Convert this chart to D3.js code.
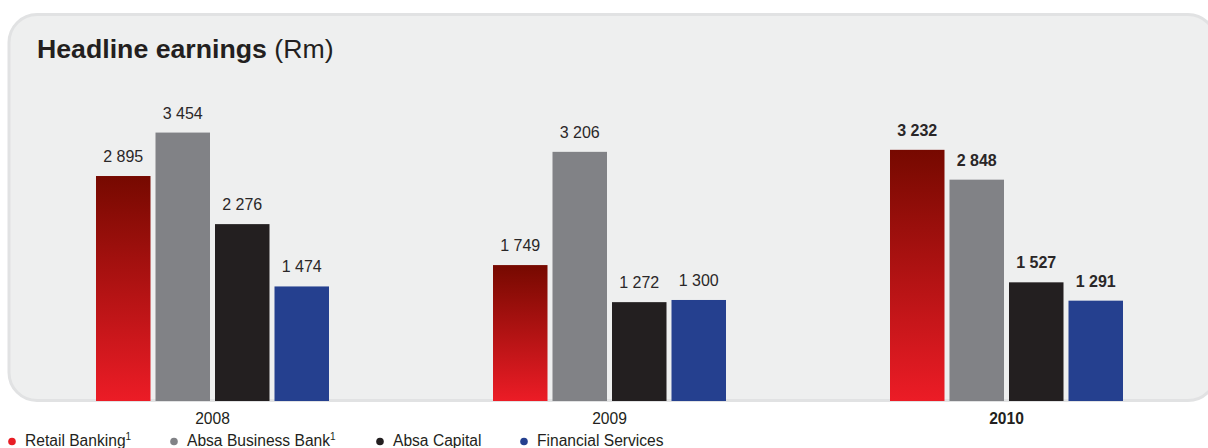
<!DOCTYPE html>
<html>
<head>
<meta charset="utf-8">
<script src="https://cdn.jsdelivr.net/npm/d3@7"></script>
<style>
  html, body { margin: 0; padding: 0; background: #ffffff; }
  svg { display: block; font-family: "Liberation Sans", Arial, sans-serif; }
</style>
</head>
<body>
<svg id="chart" width="1208" height="448"></svg>
<script>
// Headline earnings by business unit (Rm)
const years = ["2008", "2009", "2010"];
const seriesNames = ["Retail Banking", "Absa Business Bank", "Absa Capital", "Financial Services"];
const retailBanking = [2895, 1749, 3232];
const absaBusinessBank = [3454, 3206, 2848];
const absaCapital = [2276, 1272, 1527];
const financialServices = [1474, 1300, 1291];
const seriesColors = ["#e81c24", "#818286", "#231f20", "#25408f"];
const footnoted = [true, true, false, false];
const boldYear = "2010";

const seriesValues = [retailBanking, absaBusinessBank, absaCapital, financialServices];

const svg = d3.select("#chart");

// red gradient for the Retail Banking bars
const defs = svg.append("defs");
const grad = defs.append("linearGradient")
  .attr("id", "retailGrad")
  .attr("x1", 0).attr("y1", 0).attr("x2", 0).attr("y2", 1);
grad.append("stop").attr("offset", "0%").attr("stop-color", "#760900");
grad.append("stop").attr("offset", "100%").attr("stop-color", "#ec1c26");

// rounded background panel
svg.append("rect")
  .attr("x", 9).attr("y", 14.5)
  .attr("width", 1207).attr("height", 386)
  .attr("rx", 28).attr("ry", 28)
  .attr("fill", "#eeefef")
  .attr("stroke", "#e1e2e3")
  .attr("stroke-width", 3);

// title
const title = svg.append("text")
  .attr("x", 37).attr("y", 58)
  .attr("font-size", 26.7)
  .attr("fill", "#231f20");
title.append("tspan").attr("font-weight", "bold").text("Headline earnings");
title.append("tspan").attr("font-weight", "normal").text(" (Rm)");

// scales
const x0 = d3.scaleBand().domain(years).range([14, 1205]).padding(0);
const x1 = d3.scaleBand().domain(seriesNames)
  .range([82, 315]).paddingInner(0.084).paddingOuter(0);
const y = d3.scaleLinear().domain([0, 3500]).range([401, 129]);

const fmt = v => d3.format(",")(v).replace(/,/g, " ");

const rows = years.map((yr, i) => ({
  year: yr,
  items: seriesNames.map((s, j) => ({ series: s, idx: j, value: seriesValues[j][i], year: yr }))
}));

const groups = svg.append("g").selectAll("g.year")
  .data(rows)
  .join("g")
  .attr("class", "year")
  .attr("transform", d => `translate(${x0(d.year)},0)`);

groups.selectAll("rect")
  .data(d => d.items)
  .join("rect")
  .attr("x", d => x1(d.series))
  .attr("y", d => y(d.value))
  .attr("width", x1.bandwidth())
  .attr("height", d => y(0) - y(d.value))
  .attr("fill", d => d.idx === 0 ? "url(#retailGrad)" : seriesColors[d.idx]);

groups.selectAll("text.val")
  .data(d => d.items)
  .join("text")
  .attr("class", "val")
  .attr("x", d => x1(d.series) + x1.bandwidth() / 2)
  .attr("y", d => y(d.value) - 14)
  .attr("text-anchor", "middle")
  .attr("font-size", 16)
  .attr("font-weight", d => d.year === boldYear ? "bold" : "normal")
  .attr("fill", "#2a2728")
  .text(d => fmt(d.value));

// category axis labels
svg.append("g").selectAll("text")
  .data(years)
  .join("text")
  .attr("x", d => x0(d) + x0.bandwidth() / 2)
  .attr("y", 424)
  .attr("text-anchor", "middle")
  .attr("font-size", 15.6)
  .attr("font-weight", d => d === boldYear ? "bold" : "normal")
  .attr("fill", "#231f20")
  .text(d => d);

// legend
const legendX = [12, 174, 380, 524];
const legend = svg.append("g").selectAll("g")
  .data(seriesNames)
  .join("g")
  .attr("transform", (d, i) => `translate(${legendX[i]},441.5)`);
legend.append("circle")
  .attr("r", 3.8)
  .attr("fill", (d, i) => seriesColors[i]);
const lt = legend.append("text")
  .attr("x", 13).attr("y", 4.5)
  .attr("font-size", 15.6)
  .attr("fill", "#231f20")
  .text(d => d);
lt.filter((d, i) => footnoted[i])
  .append("tspan")
  .attr("dy", -6)
  .attr("font-size", 10)
  .text("1");
</script>
</body>
</html>
